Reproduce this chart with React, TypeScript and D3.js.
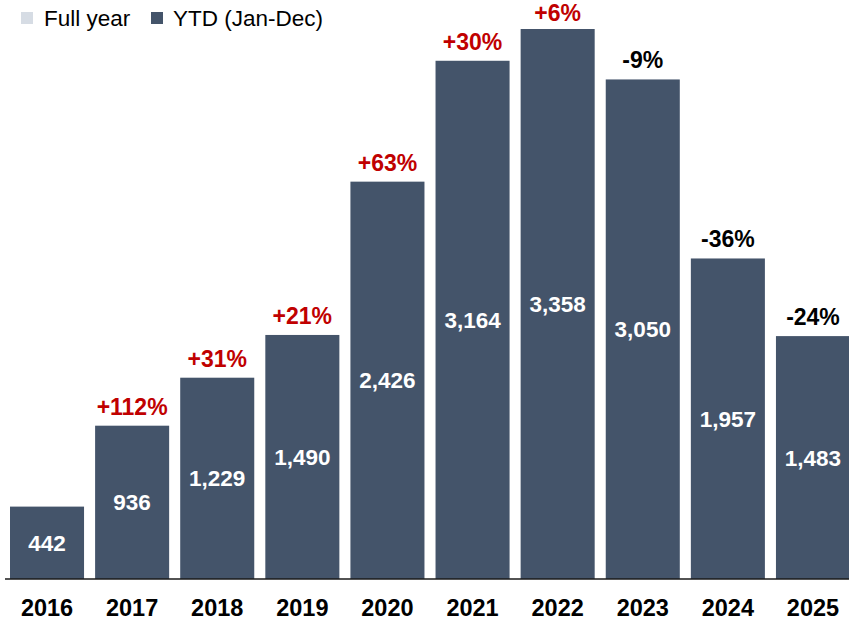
import React from "react";
import * as d3 from "d3";

const years = ["2016", "2017", "2018", "2019", "2020", "2021", "2022", "2023", "2024", "2025"];
const values = [442, 936, 1229, 1490, 2426, 3164, 3358, 3050, 1957, 1483];
const changes = ["", "+112%", "+31%", "+21%", "+63%", "+30%", "+6%", "-9%", "-36%", "-24%"];
const legendItems = ["Full year", "YTD (Jan-Dec)"];
const legendColors = ["#D6DCE4", "#44546A"];

const W = 849;
const H = 621;
const FONT = "Arial, 'Liberation Sans', sans-serif";

export default function App() {
  const x = d3.scaleBand<string>().domain(years).range([10, 850]).paddingInner(0.13).paddingOuter(0);
  const y = d3.scaleLinear().domain([0, 3358]).range([579, 29]);
  const fmt = d3.format(",");
  return (
    <svg width={W} height={H} style={{ position: "absolute", left: 0, top: 0 }} fontFamily={FONT}>
      <rect width={W} height={H} fill="#fff" />
      {/* legend */}
      <g>
        <rect x={21} y={12} width={12} height={12} fill={legendColors[0]} />
        <text x={44} y={26} fontSize={22.5} fill="#000">{legendItems[0]}</text>
        <rect x={151} y={12} width={12} height={12} fill={legendColors[1]} />
        <text x={173} y={26} fontSize={22.5} fill="#000">{legendItems[1]}</text>
      </g>
      {years.map((yr, i) => {
        const bx = x(yr)!;
        const bw = x.bandwidth();
        const top = y(values[i]);
        const ch = changes[i];
        return (
          <g key={yr}>
            <rect x={bx} y={top} width={bw} height={y(0) - top} fill={legendColors[1]} />
            <text x={bx + bw / 2} y={(top + y(0)) / 2 + 8} textAnchor="middle" fontSize={22.5} fontWeight="bold" fill="#fff">
              {fmt(values[i])}
            </text>
            {ch && (
              <text x={bx + bw / 2} y={Math.max(top - 11, 21)} textAnchor="middle" fontSize={23} fontWeight="bold"
                fill={ch.startsWith("+") ? "#C00000" : "#000"}>
                {ch}
              </text>
            )}
            <text x={bx + bw / 2} y={616} textAnchor="middle" fontSize={23.5} fontWeight="bold" fill="#000">
              {yr}
            </text>
          </g>
        );
      })}
      <line x1={5} x2={849} y1={y(0)} y2={y(0)} stroke="#1a1a1a" strokeWidth={1.5} />
    </svg>
  );
}
